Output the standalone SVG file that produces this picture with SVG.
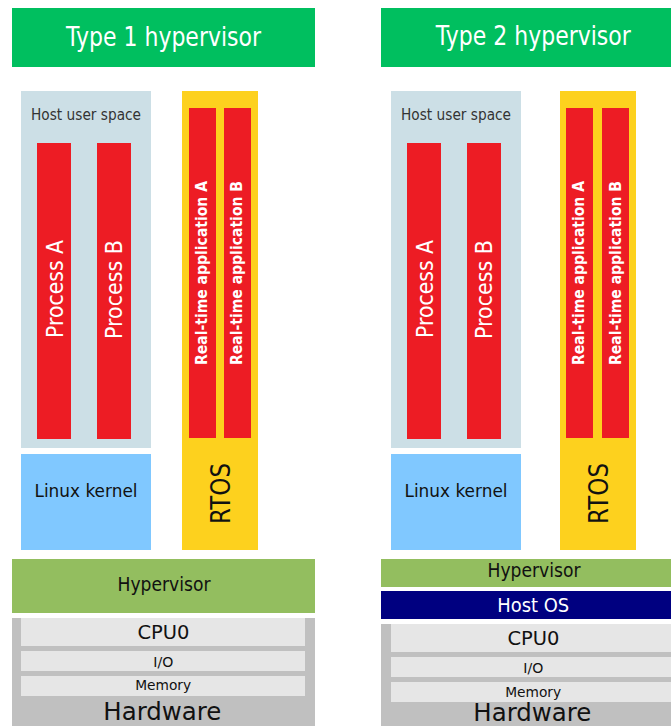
<svg xmlns="http://www.w3.org/2000/svg" width="671" height="726" viewBox="0 0 671 726">
  <style>
    text { font-family: "DejaVu Sans", "Liberation Sans", sans-serif; }
    .title { fill: #00BF5F; }
    .title-t { fill: #ffffff; font-size: 26px; text-anchor: middle; }
    .user { fill: #CCDFE6; }
    .user-t { fill: #333333; font-size: 15px; text-anchor: middle; }
    .proc { fill: #ED1C24; }
    .proc-t { fill: #ffffff; font-size: 23px; text-anchor: middle; }
    .rtos { fill: #FDD11E; }
    .rtos-t { fill: #111111; font-size: 27px; text-anchor: middle; }
    .app-t { fill: #ffffff; font-size: 15.5px; font-weight: bold; text-anchor: middle; }
    .kernel { fill: #80C8FF; }
    .kernel-t { fill: #111111; font-size: 18px; text-anchor: middle; }
    .hyp { fill: #93BE5F; }
    .hyp-t { fill: #111111; font-size: 19px; text-anchor: middle; }
    .hostos { fill: #000080; }
    .hostos-t { fill: #ffffff; font-size: 20px; text-anchor: middle; }
    .hw { fill: #C0C0C0; }
    .hw-t { fill: #111111; font-size: 24px; text-anchor: middle; }
    .part { fill: #E6E6E6; }
    .cpu-t { fill: #111111; font-size: 20px; text-anchor: middle; }
    .small-t { fill: #111111; font-size: 14.5px; text-anchor: middle; }
  </style>
  <rect width="671" height="726" fill="#ffffff"/>

  <!-- Left stack: bare-metal hypervisor -->
  <g id="type1-title">
    <rect class="title" x="12" y="8" width="303" height="59"/>
    <text class="title-t" x="163.5" y="46" textLength="195" lengthAdjust="spacingAndGlyphs">Type 1 hypervisor</text>
  </g>
  <g id="t1-user-space">
    <rect class="user" x="21" y="91" width="130" height="357"/>
    <text class="user-t" x="86" y="120" textLength="110" lengthAdjust="spacingAndGlyphs">Host user space</text>
  </g>
  <g id="t1-process-a">
    <rect class="proc" x="37" y="143" width="34" height="296"/>
    <text class="proc-t" transform="translate(62.5,289) rotate(-90)" textLength="98" lengthAdjust="spacingAndGlyphs">Process A</text>
  </g>
  <g id="t1-process-b">
    <rect class="proc" x="97" y="143" width="34" height="296"/>
    <text class="proc-t" transform="translate(121.5,289.5) rotate(-90)" textLength="99" lengthAdjust="spacingAndGlyphs">Process B</text>
  </g>
  <g id="t1-rtos">
    <rect class="rtos" x="182" y="91" width="76" height="459"/>
    <text class="rtos-t" transform="translate(230,493.5) rotate(-90)" textLength="61" lengthAdjust="spacingAndGlyphs">RTOS</text>
  </g>
  <g id="t1-rt-app-a">
    <rect class="proc" x="189" y="108" width="27" height="330"/>
    <text class="app-t" transform="translate(207,273) rotate(-90)" textLength="184" lengthAdjust="spacingAndGlyphs">Real-time application A</text>
  </g>
  <g id="t1-rt-app-b">
    <rect class="proc" x="224" y="108" width="27" height="330"/>
    <text class="app-t" transform="translate(242,273) rotate(-90)" textLength="184" lengthAdjust="spacingAndGlyphs">Real-time application B</text>
  </g>
  <g id="t1-linux-kernel">
    <rect class="kernel" x="21" y="454" width="130" height="96"/>
    <text class="kernel-t" x="86" y="497" textLength="103" lengthAdjust="spacingAndGlyphs">Linux kernel</text>
  </g>
  <g id="t1-hypervisor">
    <rect class="hyp" x="12" y="559" width="303" height="54"/>
    <text class="hyp-t" x="164" y="591" textLength="93" lengthAdjust="spacingAndGlyphs">Hypervisor</text>
  </g>
  <g id="t1-hardware">
    <rect class="hw" x="12" y="618" width="303" height="108"/>
    <rect class="part" x="21" y="618" width="284" height="28"/>
    <rect class="part" x="21" y="651" width="284" height="20"/>
    <rect class="part" x="21" y="676" width="284" height="20"/>
    <text class="cpu-t" x="163.5" y="639" textLength="52" lengthAdjust="spacingAndGlyphs">CPU0</text>
    <text class="small-t" x="163.3" y="667" textLength="20" lengthAdjust="spacingAndGlyphs">I/O</text>
    <text class="small-t" x="163.2" y="690" textLength="56" lengthAdjust="spacingAndGlyphs">Memory</text>
    <text class="hw-t" x="162.3" y="720" textLength="118" lengthAdjust="spacingAndGlyphs">Hardware</text>
  </g>

  <!-- Right stack: hosted hypervisor -->
  <g id="type2-title">
    <rect class="title" x="381" y="8" width="305" height="59"/>
    <text class="title-t" x="533.3" y="44.5" textLength="195" lengthAdjust="spacingAndGlyphs">Type 2 hypervisor</text>
  </g>
  <g id="t2-user-space">
    <rect class="user" x="391" y="91" width="130" height="357"/>
    <text class="user-t" x="456" y="120" textLength="110" lengthAdjust="spacingAndGlyphs">Host user space</text>
  </g>
  <g id="t2-process-a">
    <rect class="proc" x="407" y="143" width="34" height="296"/>
    <text class="proc-t" transform="translate(432.5,289) rotate(-90)" textLength="98" lengthAdjust="spacingAndGlyphs">Process A</text>
  </g>
  <g id="t2-process-b">
    <rect class="proc" x="467" y="143" width="34" height="296"/>
    <text class="proc-t" transform="translate(491.5,289.5) rotate(-90)" textLength="99" lengthAdjust="spacingAndGlyphs">Process B</text>
  </g>
  <g id="t2-rtos">
    <rect class="rtos" x="560" y="91" width="76" height="459"/>
    <text class="rtos-t" transform="translate(607.5,493.5) rotate(-90)" textLength="61" lengthAdjust="spacingAndGlyphs">RTOS</text>
  </g>
  <g id="t2-rt-app-a">
    <rect class="proc" x="566" y="108" width="27" height="330"/>
    <text class="app-t" transform="translate(584,273) rotate(-90)" textLength="184" lengthAdjust="spacingAndGlyphs">Real-time application A</text>
  </g>
  <g id="t2-rt-app-b">
    <rect class="proc" x="602" y="108" width="27" height="330"/>
    <text class="app-t" transform="translate(620.5,273) rotate(-90)" textLength="184" lengthAdjust="spacingAndGlyphs">Real-time application B</text>
  </g>
  <g id="t2-linux-kernel">
    <rect class="kernel" x="391" y="454" width="130" height="96"/>
    <text class="kernel-t" x="456" y="497" textLength="103" lengthAdjust="spacingAndGlyphs">Linux kernel</text>
  </g>
  <g id="t2-hypervisor">
    <rect class="hyp" x="381" y="559" width="305" height="28"/>
    <text class="hyp-t" x="534" y="577" textLength="93" lengthAdjust="spacingAndGlyphs">Hypervisor</text>
  </g>
  <g id="t2-host-os">
    <rect class="hostos" x="381" y="591" width="305" height="28"/>
    <text class="hostos-t" x="533.2" y="611.7" textLength="72" lengthAdjust="spacingAndGlyphs">Host OS</text>
  </g>
  <g id="t2-hardware">
    <rect class="hw" x="381" y="624" width="305" height="102"/>
    <rect class="part" x="391" y="624" width="286" height="28"/>
    <rect class="part" x="391" y="657" width="286" height="20"/>
    <rect class="part" x="391" y="682" width="286" height="20"/>
    <text class="cpu-t" x="533.5" y="645.3" textLength="52" lengthAdjust="spacingAndGlyphs">CPU0</text>
    <text class="small-t" x="533.3" y="673.3" textLength="20" lengthAdjust="spacingAndGlyphs">I/O</text>
    <text class="small-t" x="533.2" y="696.7" textLength="56" lengthAdjust="spacingAndGlyphs">Memory</text>
    <text class="hw-t" x="532.3" y="720.5" textLength="118" lengthAdjust="spacingAndGlyphs">Hardware</text>
  </g>
</svg>
